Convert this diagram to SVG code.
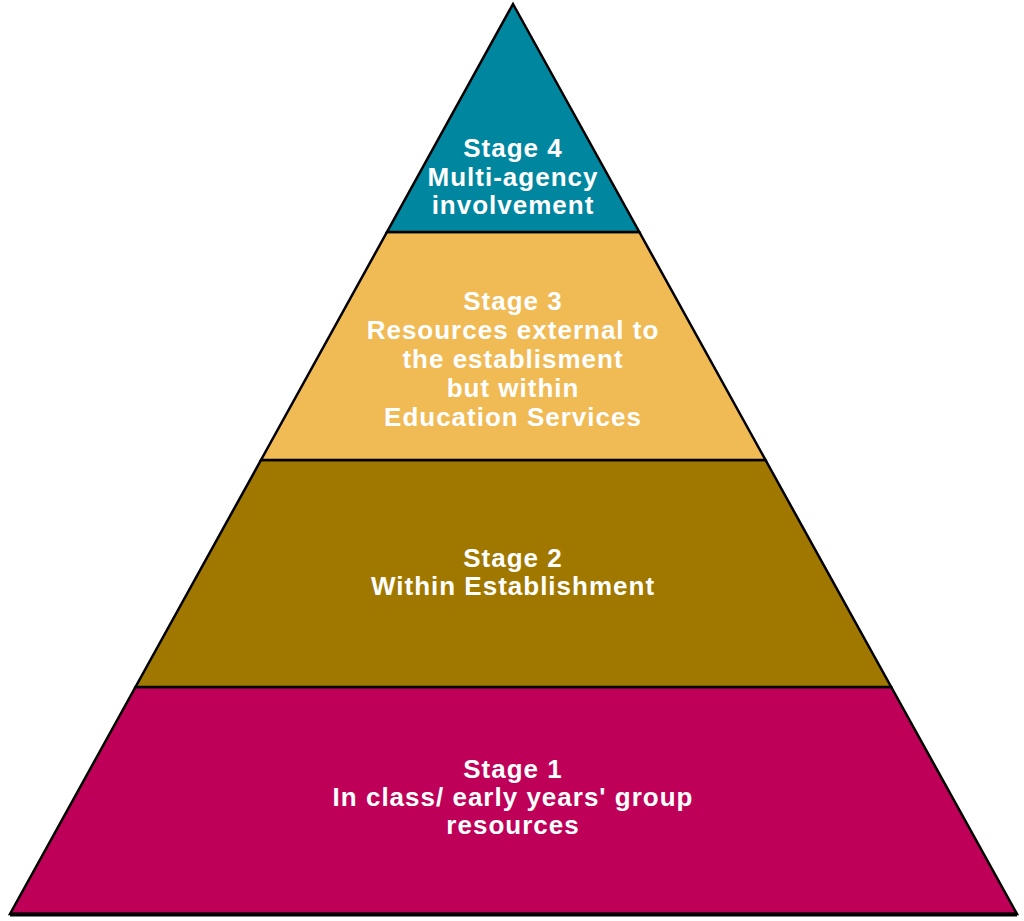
<svg xmlns="http://www.w3.org/2000/svg" width="1024" height="921" viewBox="0 0 1024 921">
  <style>
    .layer { stroke: #000000; stroke-width: 2.5; stroke-linejoin: miter; }
    .lbl { font-family: "Liberation Sans", Arial, sans-serif; font-weight: bold; font-size: 26px; fill: #FFFFFF; text-anchor: middle; letter-spacing: 1px; }
  </style>
  <rect width="1024" height="921" fill="#FFFFFF"/>
  <g id="stage1">
    <polygon class="layer" points="135.5,687 891.2,687 1017,914 10,914" fill="#BE0059"/>
    <line x1="10" y1="914.5" x2="1017" y2="914.5" stroke="#000000" stroke-width="4"/>
    <text class="lbl" x="513" y="778">Stage 1</text>
    <text class="lbl" x="513" y="806">In class/ early years' group</text>
    <text class="lbl" x="513" y="834">resources</text>
  </g>
  <g id="stage2">
    <polygon class="layer" points="261,460 765.5,460 891.2,687 135.5,687" fill="#A07800"/>
    <text class="lbl" x="513" y="567">Stage 2</text>
    <text class="lbl" x="513" y="595">Within Establishment</text>
  </g>
  <g id="stage3">
    <polygon class="layer" points="387,232 639.3,232 765.5,460 261,460" fill="#F0BA55"/>
    <text class="lbl" x="513" y="310">Stage 3</text>
    <text class="lbl" x="513" y="339">Resources external to</text>
    <text class="lbl" x="513" y="368">the establisment</text>
    <text class="lbl" x="513" y="397">but within</text>
    <text class="lbl" x="513" y="426">Education Services</text>
  </g>
  <g id="stage4">
    <polygon class="layer" points="513,4 639.3,232 387,232" fill="#00869F"/>
    <text class="lbl" x="513" y="157">Stage 4</text>
    <text class="lbl" x="513" y="186">Multi-agency</text>
    <text class="lbl" x="513" y="214">involvement</text>
  </g>
  <g id="connectors"></g>
</svg>
